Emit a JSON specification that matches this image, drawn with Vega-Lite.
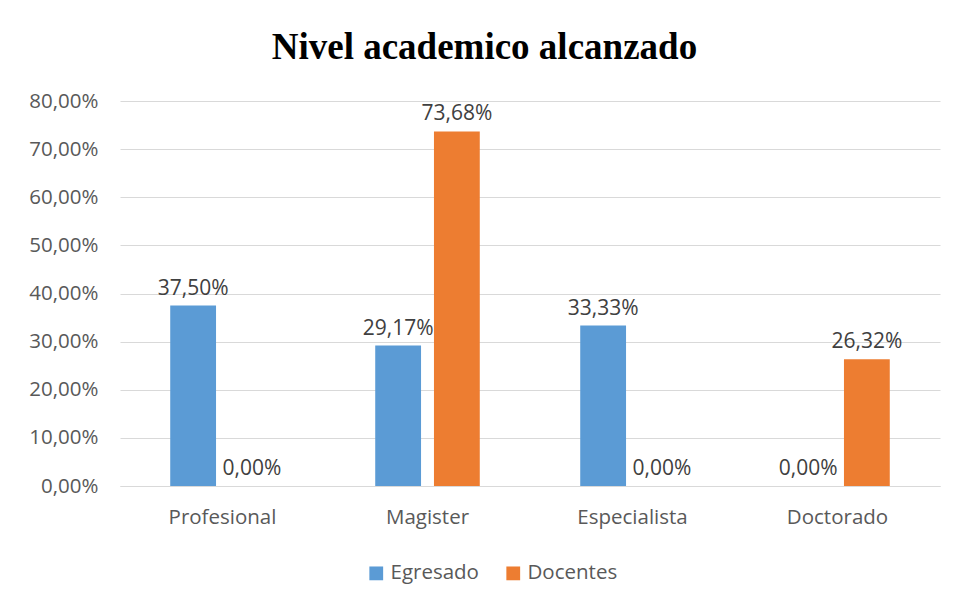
{
  "$schema": "https://vega.github.io/schema/vega-lite/v6.json",
  "width": 820,
  "height": 385,
  "autosize": {"type": "none"},
  "padding": {"left": 120, "top": 101, "right": 16, "bottom": 117},
  "background": "white",
  "config": {
    "locale": {"number": {"decimal": ",", "thousands": ".", "grouping": [3], "currency": ["", "€"]}},
    "view": {"stroke": null},
    "font": "Open Sans"
  },
  "title": {
    "text": "Nivel academico alcanzado",
    "font": "Liberation Serif",
    "fontSize": 37,
    "fontWeight": "bold",
    "color": "#000000",
    "frame": "bounds",
    "anchor": "middle",
    "offset": 24
  },
  "data": {
    "values": [
      {"nivel": "Profesional", "grupo": "Egresado", "valor": 0.375},
      {"nivel": "Profesional", "grupo": "Docentes", "valor": 0.0},
      {"nivel": "Magister", "grupo": "Egresado", "valor": 0.2917},
      {"nivel": "Magister", "grupo": "Docentes", "valor": 0.7368},
      {"nivel": "Especialista", "grupo": "Egresado", "valor": 0.3333},
      {"nivel": "Especialista", "grupo": "Docentes", "valor": 0.0},
      {"nivel": "Doctorado", "grupo": "Egresado", "valor": 0.0},
      {"nivel": "Doctorado", "grupo": "Docentes", "valor": 0.2632}
    ]
  },
  "encoding": {
    "x": {
      "field": "nivel", "type": "nominal", "sort": ["Profesional", "Magister", "Especialista", "Doctorado"],
      "scale": {"paddingInner": 0.49, "paddingOuter": 0.245},
      "axis": {"title": null, "labelAngle": 0, "ticks": false, "domainColor": "#D9D9D9", "labelColor": "#595959", "labelFontSize": 20.5, "labelPadding": 21, "labelFont": "Open Sans"}
    },
    "xOffset": {
      "field": "grupo", "type": "nominal", "sort": ["Egresado", "Docentes"],
      "scale": {"paddingInner": 0.22, "paddingOuter": 0}
    },
    "y": {
      "field": "valor", "type": "quantitative",
      "scale": {"domain": [0, 0.8]},
      "axis": {"title": null, "format": ".2%", "values": [0, 0.1, 0.2, 0.3, 0.4, 0.5, 0.6, 0.7, 0.8], "labelOverlap": false, "domain": false, "ticks": false, "gridColor": "#D9D9D9", "labelColor": "#595959", "labelFontSize": 20.5, "labelPadding": 22, "labelFont": "Open Sans"}
    }
  },
  "layer": [
    {
      "mark": {"type": "bar"},
      "encoding": {
        "color": {
          "field": "grupo", "type": "nominal", "sort": ["Egresado", "Docentes"],
          "scale": {"domain": ["Egresado", "Docentes"], "range": ["#5B9BD5", "#ED7D31"]},
          "legend": {"title": null, "orient": "none", "legendX": 246, "legendY": 462, "direction": "horizontal", "symbolType": "square", "symbolSize": 190, "symbolStrokeWidth": 0, "labelFontSize": 20.5, "labelColor": "#595959", "labelFont": "Open Sans", "columnPadding": 24, "labelOffset": 4, "symbolOpacity": 1}
        }
      }
    },
    {
      "mark": {"type": "text", "baseline": "bottom", "dy": -7, "fontSize": 21, "color": "#404040", "font": "Open Sans"},
      "encoding": {
        "text": {"field": "valor", "type": "quantitative", "format": ".2%"}
      }
    }
  ]
}
